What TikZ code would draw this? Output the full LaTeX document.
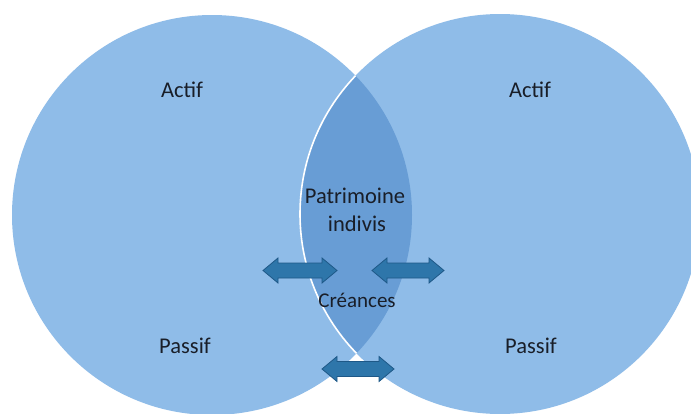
\documentclass[tikz,border=0pt]{standalone}
\usepackage{fontspec}
\setmainfont{Carlito}
\definecolor{circfill}{RGB}{143,188,232}
\definecolor{lensfill}{RGB}{104,157,213}
\definecolor{arrfill}{RGB}{46,118,170}
\definecolor{arrline}{RGB}{30,88,135}
\definecolor{txt}{RGB}{25,30,40}
\newcommand\blockarrow[3]{% center x, center y, half length
  \filldraw[arrstyle] (#1-#3,#2) -- (#1-#3+15,#2-12.5) -- (#1-#3+15,#2-7.5)
    -- (#1+#3-15,#2-7.5) -- (#1+#3-15,#2-12.5) -- (#1+#3,#2)
    -- (#1+#3-15,#2+12.5) -- (#1+#3-15,#2+7.5) -- (#1-#3+15,#2+7.5)
    -- (#1-#3+15,#2+12.5) -- cycle;}
\begin{document}
\begin{tikzpicture}[x=1pt,y=-1pt,
  lbl/.style={font=\fontsize{22.5}{26}\selectfont, text=txt, anchor=base, inner sep=0pt},
  arrstyle/.style={draw=arrline, line width=0.8pt, fill=arrfill, line join=miter}]
\useasboundingbox (0,0) rectangle (691,413);
\fill[white] (0,0) rectangle (691,413);
% circles
\fill[circfill] (212,215) circle[radius=200pt];
\fill[circfill] (500,214) circle[radius=200pt];
% lens
\begin{scope}
  \clip (212,215) circle[radius=200pt];
  \fill[lensfill] (500,214) circle[radius=200pt];
  \draw[white, line width=1.6pt] (500,214) circle[radius=200pt];
\end{scope}
% labels
\node[lbl] (a1) at (182,97) {Actif};
\node[lbl] (a2) at (530,97) {Actif};
\node[lbl] (p1) at (185,353) {Passif};
\node[lbl] (p2) at (531,353) {Passif};
\node[lbl] (pat) at (355,203) {Patrimoine};
\node[lbl] (ind) at (357,231) {indivis};
\node[lbl, font=\fontsize{21}{25}\selectfont] (cre) at (357,307) {Créances};
% arrows
\blockarrow{300}{270.5}{37}
\blockarrow{408}{270.5}{36}
\blockarrow{358}{369}{36}
\end{tikzpicture}
\end{document}
